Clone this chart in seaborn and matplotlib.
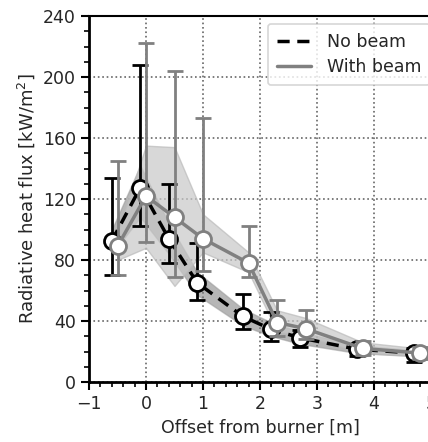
import numpy as np
import pandas as pd
import matplotlib
matplotlib.use("Agg")
import matplotlib.pyplot as plt
import seaborn as sns
from matplotlib.ticker import MultipleLocator

# ---- data ----
x_no = [-0.6, -0.1, 0.4, 0.9, 1.7, 2.2, 2.7, 3.7, 4.7]
y_no = [92.5, 127.5, 94, 65, 43, 34.5, 29, 21.5, 19]
err_lo_no = [70, 102, 78, 54, 35, 27, 23, 17, 13]
err_hi_no = [134, 208, 130, 91, 58, 46, 34, 25, 22]
band_lo_no = [84, 108, 84, 57, 37, 30, 25, 19, 17]
band_hi_no = [100, 142, 104, 72, 48, 39, 33, 24, 21]

x_wb = [-0.5, 0.0, 0.5, 1.0, 1.8, 2.3, 2.8, 3.8, 4.8]
y_wb = [89, 122, 108, 94, 78, 39, 35, 22, 19]
err_lo_wb = [70, 92, 69, 73, 69, 30, 28, 18, 15]
err_hi_wb = [145, 222, 204, 173, 102, 54, 47, 27, 23]
band_lo_wb = [80, 88, 63, 85, 72, 33, 30, 19, 17]
band_hi_wb = [98, 155, 154, 110, 85, 47, 42, 26, 22]

labels = ["No beam", "With beam"]

df = pd.DataFrame({
    "x": x_no + x_wb,
    "y": y_no + y_wb,
    "case": [labels[0]] * len(x_no) + [labels[1]] * len(x_wb),
})

sns.set_style("ticks")
plt.rcParams["font.family"] = ["DejaVu Sans"]

fig = plt.figure(figsize=(4.28, 4.42), dpi=100)
ax = fig.add_axes([89 / 428, 60 / 442, 342 / 428, 366 / 442])

BLACK = "black"
GRAY = "#808080"

# bands
ax.fill_between(x_no, band_lo_no, band_hi_no, color="#7a7a7a", alpha=0.55,
                linewidth=1, edgecolor="#999999", zorder=1)
ax.fill_between(x_wb, band_lo_wb, band_hi_wb, color="#c8c8c8", alpha=0.7,
                linewidth=1, edgecolor="#bbbbbb", zorder=1)

# error bars
y_no_a = np.array(y_no)
y_wb_a = np.array(y_wb)
ax.errorbar(x_no, y_no, yerr=[y_no_a - np.array(err_lo_no), np.array(err_hi_no) - y_no_a],
            fmt="none", ecolor=BLACK, elinewidth=2, capsize=6, capthick=2, zorder=3)

sns.lineplot(data=df[df.case == labels[0]], x="x", y="y", ax=ax, color=BLACK,
             linestyle=(0, (3.5, 2.2)), linewidth=2.5, marker="o", markersize=11.5,
             markerfacecolor="white", markeredgecolor=BLACK, markeredgewidth=2,
             label=labels[0], zorder=4, sort=False)

ax.errorbar(x_wb, y_wb, yerr=[y_wb_a - np.array(err_lo_wb), np.array(err_hi_wb) - y_wb_a],
            fmt="none", ecolor=GRAY, elinewidth=2, capsize=6, capthick=2, zorder=5)

sns.lineplot(data=df[df.case == labels[1]], x="x", y="y", ax=ax, color=GRAY,
             linestyle="-", linewidth=2.5, marker="o", markersize=11.5,
             markerfacecolor="white", markeredgecolor=GRAY, markeredgewidth=2,
             label=labels[1], zorder=6, sort=False)

ax.set_xlim(-1, 5)
ax.set_ylim(0, 240)
ax.xaxis.set_major_locator(MultipleLocator(1))
ax.xaxis.set_minor_locator(MultipleLocator(0.2))
ax.yaxis.set_major_locator(MultipleLocator(40))
ax.yaxis.set_minor_locator(MultipleLocator(10))
ax.tick_params(which="major", length=6, width=1.5, labelsize=12.5, color="black")
ax.tick_params(which="minor", length=3.5, width=1.2, color="black")

ax.grid(True, which="major", linestyle=":", color="#666666", linewidth=1.2, zorder=0)
ax.set_axisbelow(True)

for s in ["left", "bottom"]:
    ax.spines[s].set_linewidth(2)
    ax.spines[s].set_color("black")
for s in ["top", "right"]:
    ax.spines[s].set_linewidth(1.5)
    ax.spines[s].set_color("black")

ax.set_xlabel("Offset from burner [m]", fontsize=12.5)
ax.set_ylabel("Radiative heat flux [kW/m$^2$]", fontsize=13)

handles = [
    plt.Line2D([], [], color=BLACK, linestyle=(0, (3.5, 2.2)), linewidth=2.5),
    plt.Line2D([], [], color=GRAY, linestyle="-", linewidth=2.5),
]
leg = ax.legend(handles, labels, loc="upper left",
                bbox_to_anchor=((268 - 89) / 342, 1 - 8 / 366),
                fontsize=12.5, frameon=True, fancybox=True, borderaxespad=0.0,
                handlelength=2.0, handletextpad=0.9, borderpad=0.5, labelspacing=0.45)
leg.get_frame().set_edgecolor("#cccccc")
leg.get_frame().set_linewidth(1.2)

fig.savefig("out.png", dpi=100)
